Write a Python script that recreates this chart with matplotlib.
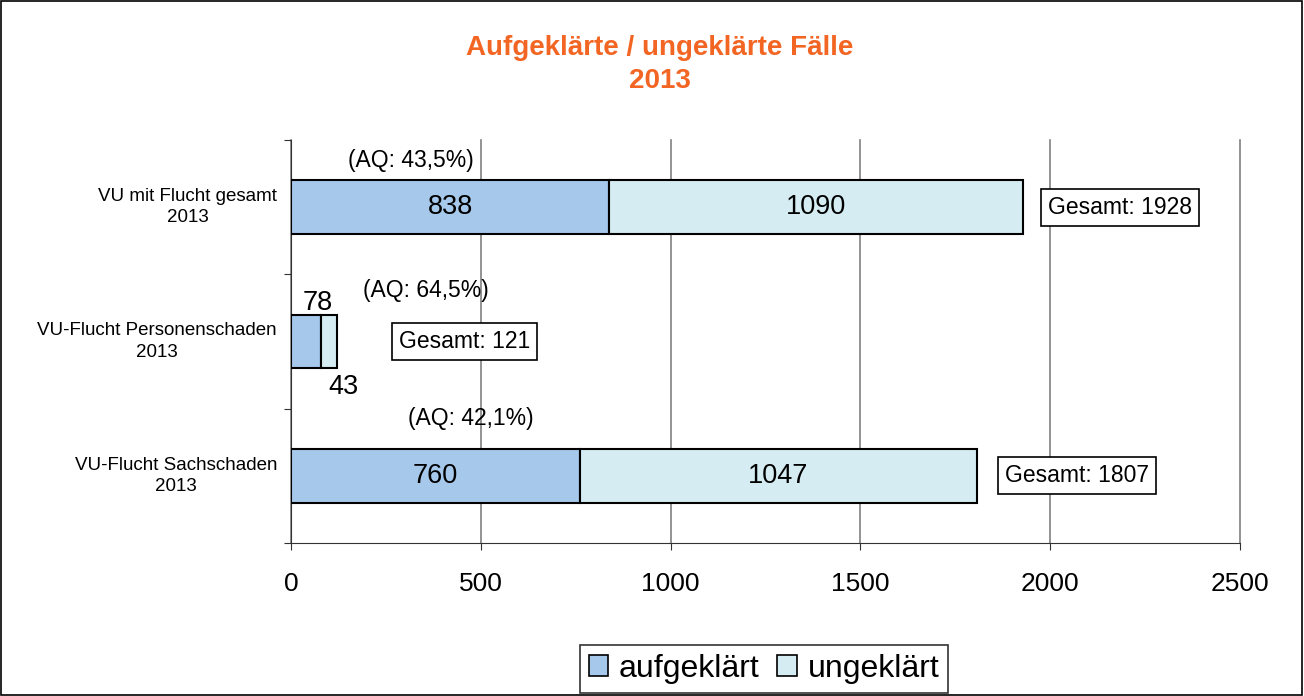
import matplotlib
matplotlib.use("Agg")
import matplotlib.pyplot as plt
from matplotlib.patches import Rectangle, Patch

plt.rcParams['font.family'] = ['Liberation Sans', 'DejaVu Sans']

categories = ["VU mit Flucht gesamt\n2013", "VU-Flucht Personenschaden\n2013", "VU-Flucht Sachschaden\n2013"]
aufgeklaert = [838, 78, 760]
ungeklaert = [1090, 43, 1047]
gesamt = [1928, 121, 1807]
aq_labels = ["(AQ: 43,5%)", "(AQ: 64,5%)", "(AQ: 42,1%)"]
x_ticks = [0, 500, 1000, 1500, 2000, 2500]

c_auf = "#A6C8EA"
c_ung = "#D4ECF2"

fig = plt.figure(figsize=(13.04, 6.96), dpi=100)
fig.patches.append(Rectangle((0.0005, 0.001), 0.998, 0.997, transform=fig.transFigure,
                             fill=False, edgecolor="black", linewidth=1.2))
ax = fig.add_axes([0.2232, 0.2198, 0.7277, 0.5791])

ypos = [2, 1, 0]
h = 0.4
ax.barh(ypos, aufgeklaert, height=h, color=c_auf, edgecolor="black", linewidth=1.5, zorder=3, label="aufgeklärt")
ax.barh(ypos, ungeklaert, left=aufgeklaert, height=h, color=c_ung, edgecolor="black", linewidth=1.5, zorder=3, label="ungeklärt")

ax.set_xlim(0, 2500)
ax.set_ylim(-0.5, 2.5)
ax.set_xticks(x_ticks)
ax.set_xticklabels([str(t) for t in x_ticks], fontsize=19)
ax.tick_params(axis="x", direction="out", length=5, pad=16, color="#333333")
ax.set_yticks([-0.5, 0.5, 1.5, 2.5])
ax.set_yticklabels([])
ax.tick_params(axis="y", direction="out", length=5, color="#333333")
for y, c in zip(ypos, categories):
    ax.text(-0.0147, y, c, transform=ax.get_yaxis_transform(), ha="right", va="center",
            fontsize=13.5, multialignment="center", linespacing=1.35)
ax.grid(axis="x", color="#808080", linewidth=1.2, zorder=0)
for gl in ax.get_xgridlines():
    gl.set_clip_on(False)
ax.spines["top"].set_visible(False)
ax.spines["right"].set_visible(False)
ax.spines["left"].set_color("#333333")
ax.spines["bottom"].set_color("#333333")

# inside labels for big bars
for i in [0, 2]:
    ax.text(aufgeklaert[i] / 2, ypos[i], str(aufgeklaert[i]), ha="center", va="center", fontsize=19.5, zorder=4)
    ax.text(aufgeklaert[i] + ungeklaert[i] / 2, ypos[i], str(ungeklaert[i]), ha="center", va="center", fontsize=19.5, zorder=4)
# small bar labels
ax.text(71, 1.29, str(aufgeklaert[1]), ha="center", va="center", fontsize=19.5, zorder=4)
ax.text(137, 0.66, str(ungeklaert[1]), ha="center", va="center", fontsize=19.5, zorder=4)

aq_pos = [(316, 2.35), (355, 1.38), (473, 0.43)]
for (x, y), t in zip(aq_pos, aq_labels):
    ax.text(x, y, t, ha="center", va="center", fontsize=16.5, zorder=4)

gs_pos = [(2184, 2.0), (456, 1.0), (2071, 0.0)]
for (x, y), g in zip(gs_pos, gesamt):
    ax.text(x, y, f"Gesamt: {g}", ha="center", va="center", fontsize=16.5, zorder=4,
            bbox=dict(boxstyle="square,pad=0.3", facecolor="white", edgecolor="black", linewidth=1.2))

fig.text(0.506, 0.931, "Aufgeklärte / ungeklärte Fälle", ha="center", va="center",
         fontsize=20, fontweight="bold", color="#F26522")
fig.text(0.506, 0.884, "2013", ha="center", va="center",
         fontsize=20, fontweight="bold", color="#F26522")

handles = [Patch(facecolor=c_auf, edgecolor="black", linewidth=1.2, label="aufgeklärt"),
           Patch(facecolor=c_ung, edgecolor="black", linewidth=1.2, label="ungeklärt")]
leg = fig.legend(handles=handles, loc="center", bbox_to_anchor=(0.586, 0.039), ncol=2,
                 fontsize=23, frameon=True, fancybox=False, edgecolor="black",
                 handlelength=0.6, handleheight=0.6, handletextpad=0.35, columnspacing=0.55,
                 borderpad=0.28, borderaxespad=0)
leg.get_frame().set_linewidth(1.2)

fig.savefig("out.png", dpi=100)
